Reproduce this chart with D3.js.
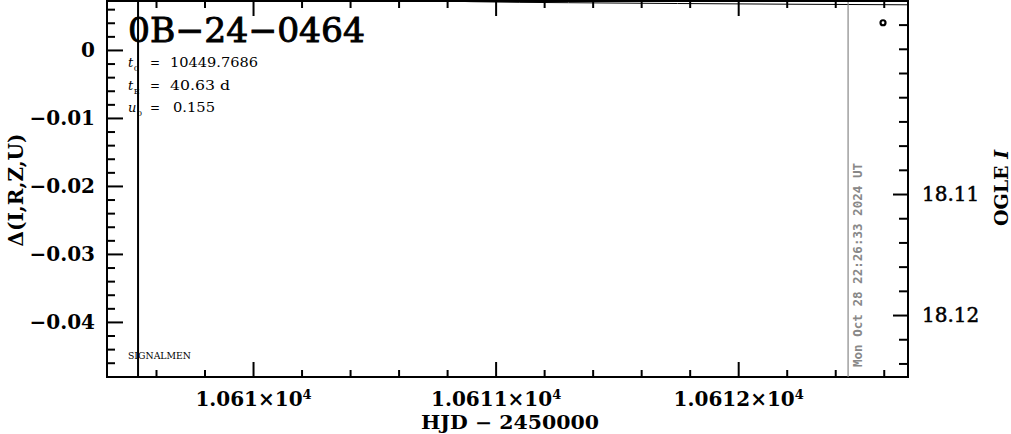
<!DOCTYPE html>
<html>
<head>
<meta charset="utf-8">
<script src="https://cdn.jsdelivr.net/npm/d3@7"></script>
<style>
  html, body { margin: 0; padding: 0; background: #fff; }
  svg { display: block; }
</style>
</head>
<body>
<svg id="chart" width="1011" height="434"></svg>
<script>
// ---- data ----
const title = "0B\u221224\u22120464";
const paramNames = ["t", "t", "u"];
const paramSubs = ["0", "E", "0"];
const paramValues = ["10449.7686", "40.63 d", "0.155"];

const xMajorTicks = [10610, 10611, 10612];
const xMajorMantissa = ["1.061", "1.0611", "1.0612"];
const xMinorTicks = [10609.6, 10609.8, 10610.2, 10610.4, 10610.6, 10610.8, 10611.2, 10611.4, 10611.6, 10611.8, 10612.2, 10612.4, 10612.6];

const leftMajorTicks = [0, -0.01, -0.02, -0.03, -0.04];
const leftMajorLabels = ["0", "\u22120.01", "\u22120.02", "\u22120.03", "\u22120.04"];
const leftMinorTicks = [0.006, 0.004, 0.002, -0.002, -0.004, -0.006, -0.008, -0.012, -0.014, -0.016, -0.018, -0.022, -0.024, -0.026, -0.028, -0.032, -0.034, -0.036, -0.038, -0.042, -0.044, -0.046];

const rightMajorTicks = [18.11, 18.12];
const rightMajorLabels = ["18.11", "18.12"];
const rightMinorTicks = [18.096, 18.098, 18.100, 18.102, 18.104, 18.106, 18.108, 18.112, 18.114, 18.116, 18.118, 18.122, 18.124];

const pointHJD = [10612.597];
const pointDelta = [0.0040];

const modelHJD = [10610.40, 10610.90, 10611.30, 10611.75, 10612.20, 10612.70];
const modelDelta = [0.0078, 0.0071, 0.00695, 0.00683, 0.00673, 0.00664];

const signalmenHJD = [10609.526];
const nowHJD = [10612.453];
const nowLabel = "Mon Oct 28 22:26:33 2024 UT";

// ---- layout ----
const L = 107, R = 908, T = 1, B = 377;
const svg = d3.select("#chart");

const x = d3.scaleLinear().domain([10609.398, 10612.70]).range([L, R]);
const yL = d3.scaleLinear().domain([-0.0481, 0.0072]).range([B, T]);
const yR = d3.scaleLinear().domain([18.12512, 18.09405]).range([B, T]);

const serif = "'DejaVu Serif', serif";

svg.append("defs").append("clipPath").attr("id", "plotclip")
  .append("rect").attr("x", L).attr("y", T + 1).attr("width", R - L).attr("height", B - T - 1);

function styleAxis(g) {
  g.select(".domain").remove();
  g.selectAll(".tick line").attr("stroke", "#000").attr("stroke-width", 2);
}

// bottom axis
svg.append("g").attr("transform", `translate(0,${B})`)
  .call(d3.axisBottom(x).tickValues(xMinorTicks).tickSizeInner(-7).tickSizeOuter(0).tickFormat(""))
  .call(styleAxis);
const xb = svg.append("g").attr("transform", `translate(0,${B})`)
  .call(d3.axisBottom(x).tickValues(xMajorTicks).tickSizeInner(-15).tickSizeOuter(0).tickPadding(15)
    .tickFormat((d, i) => xMajorMantissa[i]))
  .call(styleAxis);
xb.selectAll(".tick text")
  .attr("font-family", serif).attr("font-weight", "bold").attr("font-size", 20).attr("fill", "#000")
  .each(function(d, i) {
    const t = d3.select(this);
    t.text(xMajorMantissa[i] + "\u00d710");
    t.append("tspan").attr("font-size", 13).attr("dy", "-0.55em").text("4");
  });

// top axis
svg.append("g").attr("transform", `translate(0,${T})`)
  .call(d3.axisTop(x).tickValues(xMinorTicks).tickSizeInner(-7).tickSizeOuter(0).tickFormat(""))
  .call(styleAxis);
svg.append("g").attr("transform", `translate(0,${T})`)
  .call(d3.axisTop(x).tickValues(xMajorTicks).tickSizeInner(-15).tickSizeOuter(0).tickFormat(""))
  .call(styleAxis);

// left axis
svg.append("g").attr("transform", `translate(${L},0)`)
  .call(d3.axisLeft(yL).tickValues(leftMinorTicks).tickSizeInner(-8).tickSizeOuter(0).tickFormat(""))
  .call(styleAxis);
const yl = svg.append("g").attr("transform", `translate(${L},0)`)
  .call(d3.axisLeft(yL).tickValues(leftMajorTicks).tickSizeInner(-16).tickSizeOuter(0).tickPadding(12)
    .tickFormat((d, i) => leftMajorLabels[i]))
  .call(styleAxis);
yl.selectAll(".tick text")
  .attr("font-family", serif).attr("font-weight", "bold").attr("font-size", 20).attr("fill", "#000");

// right axis
svg.append("g").attr("transform", `translate(${R},0)`)
  .call(d3.axisRight(yR).tickValues(rightMinorTicks).tickSizeInner(-9).tickSizeOuter(0).tickFormat(""))
  .call(styleAxis);
const yr = svg.append("g").attr("transform", `translate(${R},0)`)
  .call(d3.axisRight(yR).tickValues(rightMajorTicks).tickSizeInner(-15).tickSizeOuter(0).tickPadding(14)
    .tickFormat((d, i) => rightMajorLabels[i]))
  .call(styleAxis);
yr.selectAll(".tick text")
  .attr("font-family", serif).attr("font-size", 20).attr("fill", "#000")
  .attr("stroke", "#000").attr("stroke-width", 0.5);

// frame
svg.append("rect").attr("x", L).attr("y", T).attr("width", R - L).attr("height", B - T)
  .attr("fill", "none").attr("stroke", "#000").attr("stroke-width", 2);

const plot = svg.append("g").attr("clip-path", "url(#plotclip)");

// model curve
plot.append("path")
  .datum(modelHJD.map((h, i) => [h, modelDelta[i]]))
  .attr("d", d3.line().curve(d3.curveMonotoneX).x(d => x(d[0])).y(d => yL(d[1])))
  .attr("fill", "none").attr("stroke", "#000").attr("stroke-width", 1);

// vertical markers
plot.selectAll("line.sig").data(signalmenHJD).enter().append("line")
  .attr("x1", d => x(d)).attr("x2", d => x(d)).attr("y1", T).attr("y2", B)
  .attr("stroke", "#000").attr("stroke-width", 2);
plot.selectAll("line.now").data(nowHJD).enter().append("line")
  .attr("x1", d => x(d)).attr("x2", d => x(d)).attr("y1", T).attr("y2", B)
  .attr("stroke", "#888").attr("stroke-width", 1.2);

// data point
plot.selectAll("circle.pt").data(pointHJD).enter().append("circle")
  .attr("cx", d => x(d)).attr("cy", (d, i) => yL(pointDelta[i])).attr("r", 2.5)
  .attr("fill", "none").attr("stroke", "#000").attr("stroke-width", 2.2);

// date label
svg.append("text")
  .attr("transform", `translate(${x(nowHJD[0]) + 14},367) rotate(-90)`)
  .attr("font-family", "'DejaVu Sans Mono', monospace").attr("font-weight", "bold")
  .attr("font-size", 13).attr("fill", "#888")
  .attr("textLength", 204).attr("lengthAdjust", "spacingAndGlyphs")
  .text(nowLabel);

// title
svg.append("text").attr("x", 128).attr("y", 42)
  .attr("font-family", serif).attr("font-size", 34).attr("fill", "#000")
  .attr("stroke", "#000").attr("stroke-width", 0.9)
  .attr("textLength", 237).attr("lengthAdjust", "spacingAndGlyphs")
  .text(title);

// parameters
const valueLen = [88, 60, 42];
const valueX = [170, 170, 173];
paramNames.forEach((n, i) => {
  const y0 = 67 + i * 22.5;
  const t = svg.append("text").attr("x", 128).attr("y", y0)
    .attr("font-family", serif).attr("font-size", 13).attr("fill", "#000");
  t.append("tspan").attr("font-style", "italic").text(n);
  t.append("tspan").attr("font-size", 8).attr("dy", 4).attr("dx", 0.5).text(paramSubs[i]);
  svg.append("text").attr("x", 150).attr("y", y0)
    .attr("font-family", serif).attr("font-size", 13).attr("fill", "#000")
    .attr("textLength", 10).attr("lengthAdjust", "spacingAndGlyphs").text("=");
  svg.append("text").attr("x", valueX[i]).attr("y", y0)
    .attr("font-family", serif).attr("font-size", 13).attr("fill", "#000")
    .attr("textLength", valueLen[i]).attr("lengthAdjust", "spacingAndGlyphs")
    .text(paramValues[i]);
});

// SIGNALMEN label
svg.append("text").attr("x", 128).attr("y", 359)
  .attr("font-family", serif).attr("font-size", 10).attr("fill", "#000")
  .attr("textLength", 63).attr("lengthAdjust", "spacingAndGlyphs")
  .text("SIGNALMEN");

// axis titles
svg.append("text").attr("x", 510).attr("y", 429).attr("text-anchor", "middle")
  .attr("font-family", serif).attr("font-weight", "bold").attr("font-size", 18).attr("fill", "#000")
  .attr("textLength", 178).attr("lengthAdjust", "spacingAndGlyphs")
  .text("HJD \u2212 2450000");

svg.append("text").attr("transform", "translate(23,190) rotate(-90)").attr("text-anchor", "middle")
  .attr("font-family", serif).attr("font-weight", "bold").attr("font-size", 20).attr("fill", "#000")
  .text("\u0394(I,R,Z,U)");

const og = svg.append("text").attr("transform", "translate(1008,188) rotate(-90)").attr("text-anchor", "middle")
  .attr("font-family", serif).attr("font-weight", "bold").attr("font-size", 19).attr("fill", "#000");
og.append("tspan").text("OGLE ");
og.append("tspan").attr("font-style", "italic").text("I");
</script>
</body>
</html>
